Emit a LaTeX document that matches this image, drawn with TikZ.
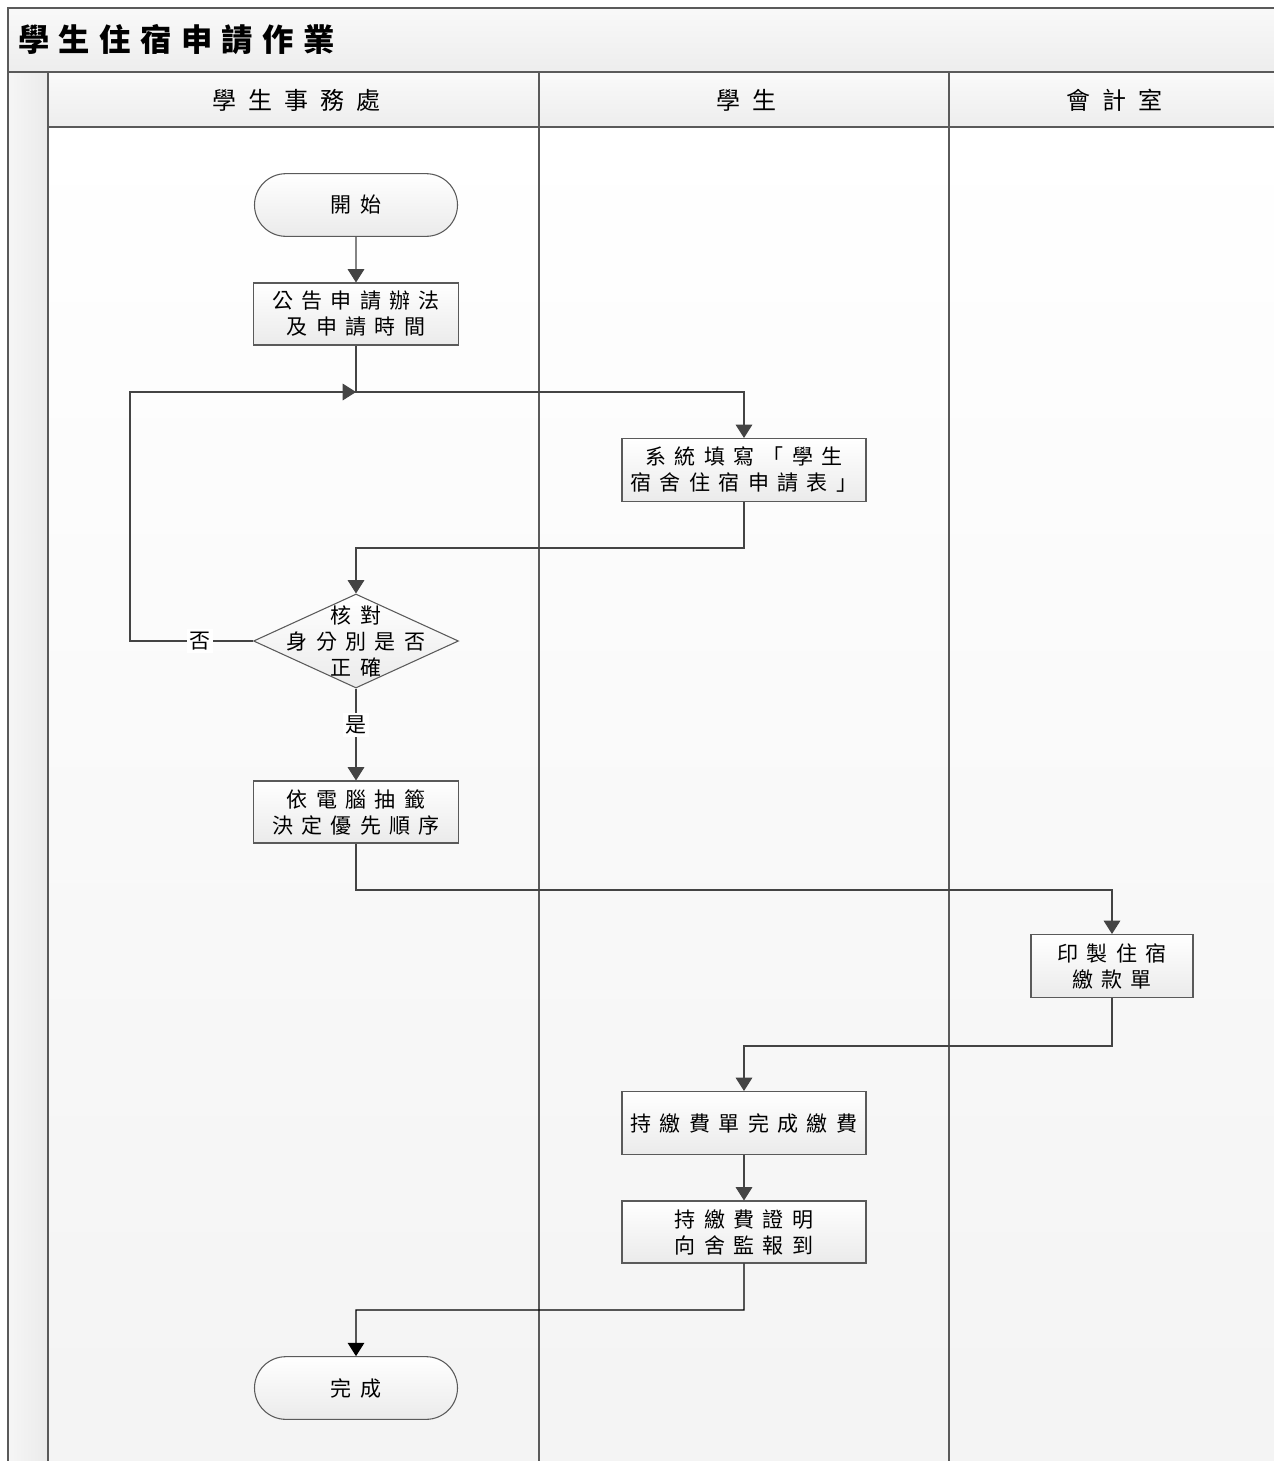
\documentclass[tikz,border=0pt]{standalone}
\usepackage{fontspec}
\usepackage{tikz}
\usetikzlibrary{shapes.misc,shapes.geometric,arrows.meta,calc}
\newfontfamily\cjk[LetterSpace=40]{Noto Sans CJK TC}
\newfontfamily\lanefont[LetterSpace=50]{Noto Sans CJK TC}
\newfontfamily\titlefont[LetterSpace=30]{Noto Sans CJK TC}
\definecolor{edge}{HTML}{5A5A5A}
\definecolor{wire}{HTML}{444444}
\tikzset{
  lane/.style={draw=edge,line width=1.1pt},
  txt/.style={font=\cjk\fontsize{15.75}{19.5}\selectfont,align=center,inner sep=0pt},
  box/.style={txt,draw=edge,line width=0.8pt,top color=white,bottom color=gray!16,rectangle,minimum height=46.5pt},
  term/.style={box,rounded rectangle,minimum width=152.25pt,minimum height=47pt},
  diam/.style={diamond,draw=edge,line width=0.8pt,top color=white,bottom color=gray!16,minimum width=153.75pt,minimum height=70.5pt,inner sep=0pt},
  lbl/.style={txt,fill=white,inner sep=2pt},
  flow/.style={draw=wire,line width=0.8pt,-{Triangle[width=12.5pt,length=10pt]}}
}
\begin{document}
\begin{tikzpicture}[x=0.75pt,y=-0.75pt]
\useasboundingbox (0,0) rectangle (1274,1461);
% pool background
\shade[top color=gray!5,bottom color=gray!14] (8,8) rectangle (1274,72);
\shade[left color=gray!7,right color=gray!16] (8,72) rectangle (48,1461);
\shade[top color=gray!4,bottom color=gray!14] (48,72) rectangle (1274,127);
\shade[top color=white,bottom color=gray!9] (48,127) rectangle (1274,1461);
\draw[lane] (8,1461) -- (8,8) -- (1274,8);
\draw[lane] (8,72) -- (1274,72);
\draw[lane] (48,127) -- (1274,127);
\draw[lane] (48,72) -- (48,1461);
\draw[lane] (539,72) -- (539,1461);
\draw[lane] (949,72) -- (949,1461);
% titles
\node[anchor=west,inner sep=0pt,font=\titlefont\bfseries\fontsize{23.5}{27}\selectfont] (title) at (18,40) {學生住宿申請作業};
\node[inner sep=0pt,font=\lanefont\fontsize{18}{22}\selectfont] (osa) at (296,100) {學生事務處};
\node[inner sep=0pt,font=\lanefont\fontsize{18}{22}\selectfont] (stu) at (746,100) {學生};
\node[inner sep=0pt,font=\lanefont\fontsize{18}{22}\selectfont] (acc) at (1114,100) {會計室};
% steps
\node[term] (start) at (356,205) {開始};
\node[box,minimum width=153.75pt] (ann) at (356,314) {公告申請辦法\\及申請時間};
\node[box,minimum width=183pt,minimum height=47.25pt] (app) at (744,470) {系統填寫「學生\\宿舍住宿申請表」};
\node[diam] (chk) at (356,641) {};
\node[txt] (chktxt) at (chk) {核對\\身分別是否\\正確};
\node[box,minimum width=153.75pt] (lot) at (356,812) {依電腦抽籤\\決定優先順序};
\node[box,minimum width=121.5pt,minimum height=47.25pt] (bill) at (1112,966) {印製住宿\\繳款單};
\node[box,minimum width=183pt,minimum height=47.25pt] (pay) at (744,1123) {持繳費單完成繳費};
\node[box,minimum width=183pt] (rep) at (744,1232) {持繳費證明\\向舍監報到};
\node[term] (fin) at (356,1388) {完成};
% bends
\coordinate (j1) at (356,392);
\coordinate (j2) at (356,548);
\coordinate (j3) at (356,890);
\coordinate (j4) at (744,1046);
\coordinate (j5) at (356,1310);
\coordinate (back) at (130,641);
% connectors
\draw[flow] (start) -- (ann);
\draw[flow] (ann) -- (j1) -| (app);
\draw[flow] (app) |- (j2) -- (chk);
\draw[flow] (chk) -- node[lbl,pos=0.43] (no) {否} (back) |- (j1);
\draw[flow] (chk) -- node[lbl,pos=0.4] (yes) {是} (lot);
\draw[flow] (lot) -- (j3) -| (bill);
\draw[flow] (bill) |- (j4) -- (pay);
\draw[flow] (pay) -- (rep);
\draw[flow,draw=black] (rep) |- (j5) -- (fin);
\end{tikzpicture}
\end{document}
